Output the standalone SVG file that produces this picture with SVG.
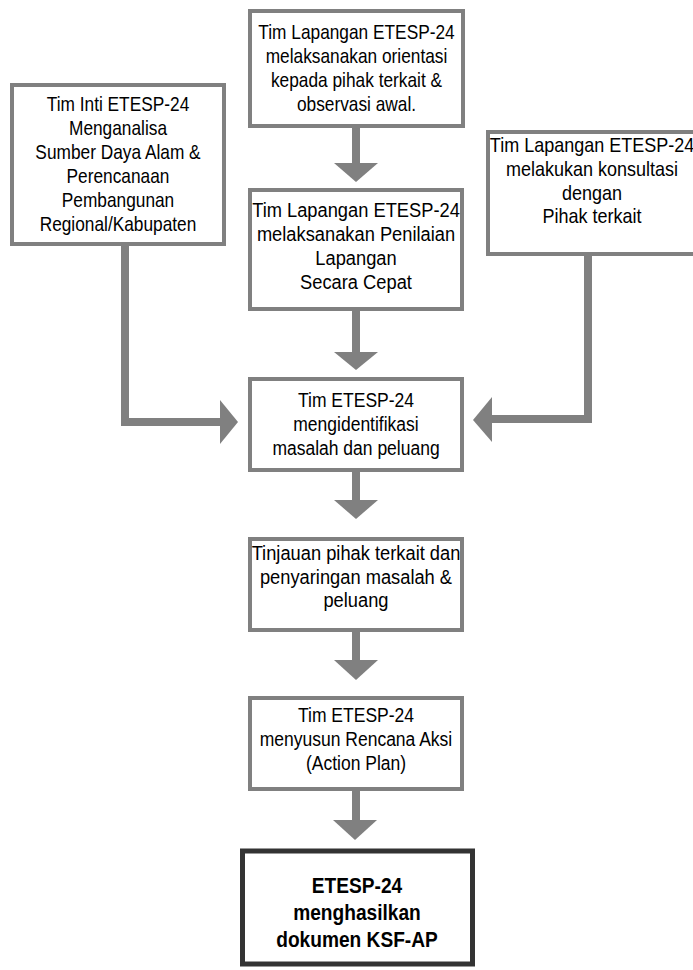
<svg xmlns="http://www.w3.org/2000/svg" width="693" height="970" viewBox="0 0 693 970">
<style>
.box{fill:#fff;stroke:#808080;stroke-width:4}
.fin{fill:#fff;stroke:#333;stroke-width:5}
text{font-family:"Liberation Sans",Arial,sans-serif;font-size:20px;fill:#000;text-anchor:middle}
.b{font-weight:bold;font-size:22px}
.arr{fill:#808080;stroke:none}
.sh{fill:none;stroke:#808080;stroke-width:8}
</style>
<rect width="693" height="970" fill="#fff"/>
<g id="connectors">
  <rect class="arr" x="352" y="128" width="8" height="36"/>
  <polygon class="arr" points="334,163 378,163 356,182"/>
  <rect class="arr" x="352" y="311" width="8" height="42"/>
  <polygon class="arr" points="334,352 378,352 356,370"/>
  <rect class="arr" x="352" y="472" width="8" height="29"/>
  <polygon class="arr" points="334,500 378,500 356,519"/>
  <rect class="arr" x="352" y="632" width="8" height="29"/>
  <polygon class="arr" points="334,660 378,660 356,680"/>
  <rect class="arr" x="352" y="790" width="8" height="31"/>
  <polygon class="arr" points="333,820 377,820 355,840"/>
  <polyline class="sh" points="125,246 125,422 221,422"/>
  <polygon class="arr" points="220,400 220,444 238,422"/>
  <polyline class="sh" points="588,256 588,419 491,419"/>
  <polygon class="arr" points="492,397 492,442 473,420"/>
</g>
<g id="n1">
  <rect class="box" x="250" y="11" width="213" height="115"/>
  <g transform="translate(356.5,0) scale(0.865,1)">
    <text x="0" y="39">Tim Lapangan ETESP-24</text>
    <text x="0" y="63">melaksanakan orientasi</text>
    <text x="0" y="87">kepada pihak terkait &amp;</text>
    <text x="0" y="111">observasi awal.</text>
  </g>
</g>
<g id="n_left">
  <rect class="box" x="12" y="85" width="212" height="159"/>
  <g transform="translate(118,0) scale(0.865,1)">
    <text x="0" y="111">Tim Inti ETESP-24</text>
    <text x="0" y="135">Menganalisa</text>
    <text x="0" y="159">Sumber Daya Alam &amp;</text>
    <text x="0" y="183">Perencanaan</text>
    <text x="0" y="207">Pembangunan</text>
    <text x="0" y="231">Regional/Kabupaten</text>
  </g>
</g>
<g id="n2">
  <rect class="box" x="250" y="190" width="212" height="119"/>
  <g transform="translate(356,0) scale(0.915,1)">
    <text x="0" y="217">Tim Lapangan ETESP-24</text>
    <text x="0" y="241">melaksanakan Penilaian</text>
    <text x="0" y="265">Lapangan</text>
    <text x="0" y="289">Secara Cepat</text>
  </g>
</g>
<g id="n_right">
  <rect class="box" x="488" y="132" width="212" height="122"/>
  <g transform="translate(592,0) scale(0.9,1)">
    <text x="0" y="152">Tim Lapangan ETESP-24</text>
    <text x="0" y="176">melakukan konsultasi</text>
    <text x="0" y="200">dengan</text>
    <text x="0" y="223">Pihak terkait</text>
  </g>
</g>
<g id="n3">
  <rect class="box" x="250" y="379" width="212" height="91"/>
  <g transform="translate(356,0) scale(0.875,1)">
    <text x="0" y="407">Tim ETESP-24</text>
    <text x="0" y="431">mengidentifikasi</text>
    <text x="0" y="455">masalah dan peluang</text>
  </g>
</g>
<g id="n4">
  <rect class="box" x="250" y="539" width="212" height="91"/>
  <g transform="translate(356,0) scale(0.915,1)">
    <text x="0" y="560">Tinjauan pihak terkait dan</text>
    <text x="0" y="584">penyaringan masalah &amp;</text>
    <text x="0" y="607">peluang</text>
  </g>
</g>
<g id="n5">
  <rect class="box" x="250" y="698" width="212" height="91"/>
  <g transform="translate(356,0) scale(0.875,1)">
    <text x="0" y="722">Tim ETESP-24</text>
    <text x="0" y="746">menyusun Rencana Aksi</text>
    <text x="0" y="770">(Action Plan)</text>
  </g>
</g>
<g id="n_final">
  <rect class="fin" x="242.5" y="851" width="230" height="113"/>
  <g transform="translate(357,0) scale(0.87,1)">
    <text class="b" x="0" y="893">ETESP-24</text>
    <text class="b" x="0" y="920">menghasilkan</text>
    <text class="b" x="0" y="947">dokumen KSF-AP</text>
  </g>
</g>
</svg>
